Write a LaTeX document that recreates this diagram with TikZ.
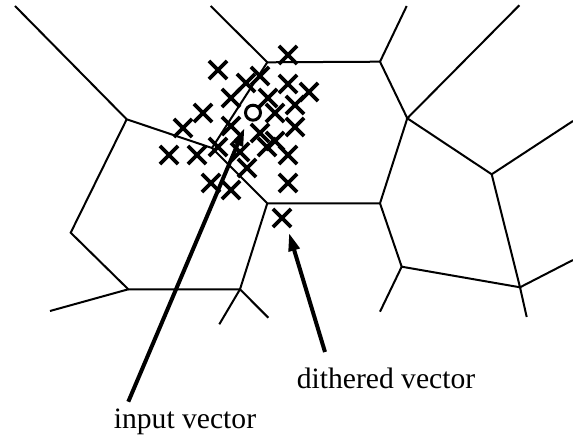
\documentclass[tikz,border=0pt]{standalone}
\usepackage{fontspec}
\setmainfont{Liberation Serif}
\usetikzlibrary{shapes.misc,arrows.meta,positioning}

\begin{document}
\begin{tikzpicture}[
    x=0.5pt, y=-0.5pt,
    edge/.style={line width=1pt, line join=miter},
    sample/.style={
        cross out,
        draw,
        line width=1.9pt,
        minimum size=7.2pt,
        inner sep=0pt
    },
    origin/.style={
        circle,
        draw,
        line width=1.5pt,
        minimum size=7.5pt,
        inner sep=0pt
    },
    caption/.style={anchor=base, font=\fontsize{14.8}{17}\selectfont},
    arrow/.style={-{Triangle[length=9pt, width=5.5pt]}, line width=2pt}
]
    \useasboundingbox (0,0) rectangle (573,438);

    % cell vertices
    \coordinate (a) at (126.7,119.3);
    \coordinate (b) at (267.3,62.3);
    \coordinate (c) at (380,61.7);
    \coordinate (d) at (407.3,118.3);
    \coordinate (e) at (380,203.3);
    \coordinate (f) at (267.3,203.3);
    \coordinate (v) at (212,148);
    \coordinate (g) at (70.7,232.7);
    \coordinate (h) at (128.3,289.3);
    \coordinate (i) at (240,289.3);
    \coordinate (j) at (401.7,266.7);
    \coordinate (k) at (491.7,174.3);
    \coordinate (l) at (520,287.3);

    % open ends
    \coordinate (a0) at (15,6);
    \coordinate (b0) at (210.7,6);
    \coordinate (c0) at (406.7,6);
    \coordinate (d0) at (519.3,5.3);
    \coordinate (k0) at (573,121);
    \coordinate (l0) at (573,260);
    \coordinate (l1) at (526.7,317);
    \coordinate (j0) at (380,311.7);
    \coordinate (i0) at (219.3,324.3);
    \coordinate (i1) at (268.3,317.7);
    \coordinate (h0) at (50,311);

    \draw[edge] (a0) -- (a) -- (v) -- (f) -- (e) -- (d) -- (c) -- (b) -- (v);
    \draw[edge] (a) -- (g) -- (h) -- (i) -- (f);
    \draw[edge] (b0) -- (b);
    \draw[edge] (c0) -- (c);
    \draw[edge] (d0) -- (d) -- (k) -- (l) -- (j) -- (e);
    \draw[edge] (k0) -- (k);
    \draw[edge] (l0) -- (l) -- (l1);
    \draw[edge] (j0) -- (j);
    \draw[edge] (i0) -- (i) -- (i1);
    \draw[edge] (h0) -- (h);

    % dithered samples
    \foreach \px/\py [count=\n] in {288/55, 218/70, 260/76, 246/83, 288/84,
        309/92, 231/98, 268/98, 295/105, 203/113, 275/113, 183/128, 231/126,
        295/127, 260/133, 275/141, 267/147, 218/147, 288/155, 169/155,
        197/155, 240/152, 247/168, 211/183, 231/190, 288/183}
        \node[sample] (s\n) at (\px,\py) {};
    \node[sample] (dith) at (282,218) {};
    \node[origin] (inp) at (253,112.7) {};

    \node[caption] (dlabel) at (386,388) {dithered vector};
    \node[caption] (ilabel) at (185,428) {input vector};

    \coordinate (dtail) at (325,352);
    \coordinate (dtip) at (289,233);
    \coordinate (itail) at (128.3,401.7);
    \coordinate (itip) at (244.5,128);
    \draw[arrow] (dtail) -- (dtip);
    \draw[arrow] (itail) -- (itip);
\end{tikzpicture}
\end{document}
